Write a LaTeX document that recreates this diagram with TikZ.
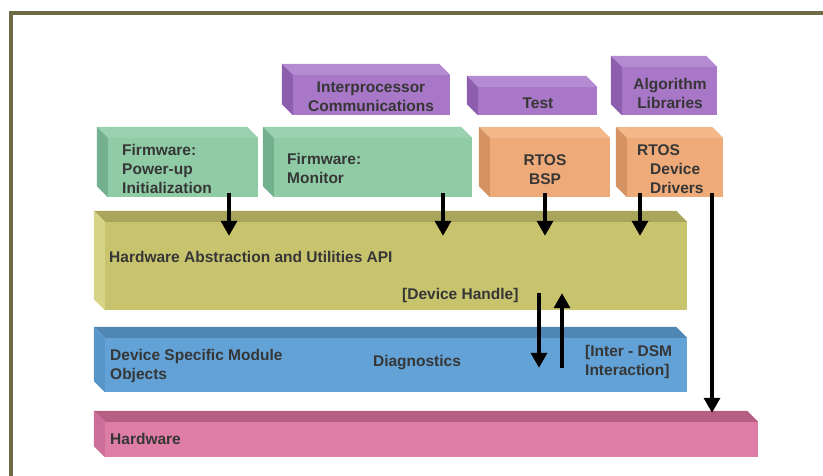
\documentclass[tikz,border=0pt]{standalone}
\usepackage{fontspec}
\setmainfont{Liberation Sans}
\usetikzlibrary{arrows.meta,calc}
\definecolor{framecol}{HTML}{6E6B45}
\definecolor{txtcol}{HTML}{363636}
\definecolor{gfront}{HTML}{8FCCA6}\definecolor{gtop}{HTML}{9AD2B0}\definecolor{gleft}{HTML}{72B08E}
\definecolor{pfront}{HTML}{A877C8}\definecolor{ptop}{HTML}{B48BD2}\definecolor{pleft}{HTML}{8E5EAE}
\definecolor{ofront}{HTML}{EEAA78}\definecolor{otop}{HTML}{F3B98A}\definecolor{oleft}{HTML}{D59262}
\definecolor{yfront}{HTML}{C8C46E}\definecolor{ytop}{HTML}{A9A55A}\definecolor{yleft}{HTML}{D6D486}
\definecolor{bfront}{HTML}{62A2D6}\definecolor{btop}{HTML}{4F86B4}\definecolor{bleft}{HTML}{5896CA}
\definecolor{kfront}{HTML}{DE7EA6}\definecolor{ktop}{HTML}{B65E84}\definecolor{kleft}{HTML}{CD6E98}
\newcommand\cubefaces[3]{%
  \fill[#2] ($(#1.north west)+(-11,-11)$) -- ($(#1.north east)+(-11,-11)$) -- (#1.north east) -- (#1.north west) -- cycle;
  \fill[#3] ($(#1.north west)+(-11,-11)$) -- (#1.north west) -- (#1.south west) -- ($(#1.south west)+(-11,-11)$) -- cycle;}
\tikzset{
  cubebox/.style={rectangle, inner sep=0pt, draw=none},
  lbl/.style={inner sep=0pt, text=txtcol, font=\bfseries\fontsize{15.5}{19}\selectfont},
  arr/.style={line width=3.4pt, black, -{Triangle[width=16pt,length=15pt]}}
}
\begin{document}
\begin{tikzpicture}[x=1pt,y=-1pt]
\useasboundingbox (0,0) rectangle (823,476);
\fill[white] (0,0) rectangle (823,476);
\draw[framecol, line width=4pt] (11,476) -- (11,13) -- (823,13);

% boxes (front faces)
\node[cubebox, fill=pfront, minimum width=157pt, minimum height=40pt] (ipc) at (371.5,95) {};
\node[cubebox, fill=pfront, minimum width=119pt, minimum height=28pt] (test) at (537.5,101) {};
\node[cubebox, fill=pfront, minimum width=95pt, minimum height=48pt] (alg) at (669.5,91) {};
\node[cubebox, fill=gfront, minimum width=150pt, minimum height=59pt] (fw1) at (183,167.5) {};
\node[cubebox, fill=gfront, minimum width=198pt, minimum height=59pt] (fw2) at (373,167.5) {};
\node[cubebox, fill=ofront, minimum width=120pt, minimum height=59pt] (bsp) at (550,167.5) {};
\node[cubebox, fill=ofront, minimum width=96pt, minimum height=59pt] (drv) at (675,167.5) {};
\node[cubebox, fill=yfront, minimum width=582pt, minimum height=88pt] (hal) at (396,266) {};
\node[cubebox, fill=bfront, minimum width=582pt, minimum height=54pt] (dsm) at (396,365) {};
\node[cubebox, fill=kfront, minimum width=653pt, minimum height=35pt] (hw) at (431.5,439.5) {};

\cubefaces{ipc}{ptop}{pleft}
\cubefaces{test}{ptop}{pleft}
\cubefaces{alg}{ptop}{pleft}
\cubefaces{fw1}{gtop}{gleft}
\cubefaces{fw2}{gtop}{gleft}
\cubefaces{bsp}{otop}{oleft}
\cubefaces{drv}{otop}{oleft}
\cubefaces{hal}{ytop}{yleft}
\cubefaces{dsm}{btop}{bleft}
\cubefaces{hw}{ktop}{kleft}

% labels
\node[lbl, align=center] (tipc) at (371,97) {Interprocessor\\Communications};
\node[lbl] (ttest) at (538,103) {Test};
\node[lbl, align=center] (talg) at (670,93) {Algorithm\\Libraries};
\node[lbl, align=left, anchor=west] (tfw1) at (122,169) {Firmware:\\Power-up\\Initialization};
\node[lbl, align=left, anchor=west] (tfw2) at (287,168) {Firmware:\\Monitor};
\node[lbl, align=center] (tbsp) at (545,170) {RTOS\\BSP};
\node[lbl, align=left, anchor=west] (tdrv) at (637,169) {RTOS\\\hspace*{13pt}Device\\\hspace*{13pt}Drivers};
\node[lbl, anchor=west] (thal) at (109,257) {Hardware Abstraction and Utilities API};
\node[lbl, anchor=west] (thandle) at (402,295) {[Device Handle]};
\node[lbl, align=left, anchor=west] (tdsm) at (110,366) {Device Specific Module\\Objects};
\node[lbl] (tdiag) at (417,363) {Diagnostics};
\node[lbl, align=left, anchor=west] (tinter) at (585,362) {[Inter - DSM\\Interaction]};
\node[lbl, anchor=west] (thw) at (110,439) {Hardware};

% arrows
\draw[arr] ($(fw1.south)+(46,-4)$) -- ($(fw1.south |- hal.north)+(46,14)$);
\draw[arr] ($(fw2.south)+(70,-4)$) -- ($(fw2.south |- hal.north)+(70,14)$);
\draw[arr] ($(bsp.south)+(-5,-4)$) -- ($(bsp.south |- hal.north)+(-5,14)$);
\draw[arr] ($(drv.south)+(-35,-4)$) -- ($(drv.south |- hal.north)+(-35,14)$);
\draw[arr] ($(drv.south)+(37,-4)$) -- ($(drv.south |- hw.north)+(37,-9)$);
\draw[arr] ($(hal.south)+(143,-17)$) -- ($(hal.south |- dsm.north)+(143,30)$);
\draw[arr] ($(hal.south |- dsm.north)+(166,30)$) -- ($(hal.south)+(166,-17)$);
\end{tikzpicture}
\end{document}
